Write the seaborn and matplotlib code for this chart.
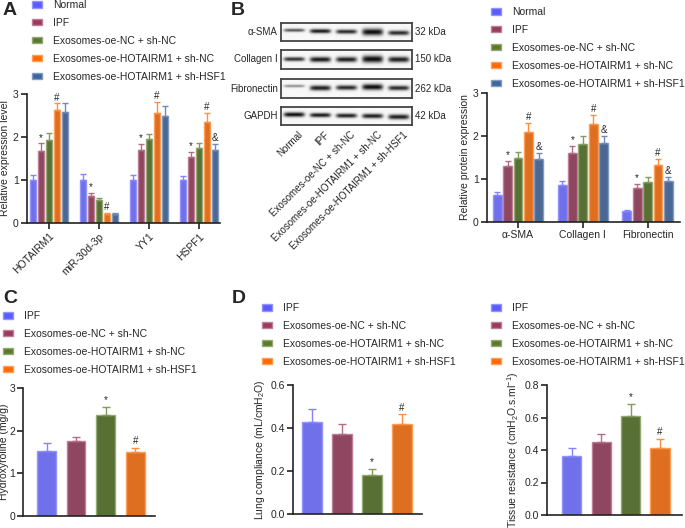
import numpy as np
import pandas as pd
import seaborn as sns
import matplotlib.pyplot as plt
from matplotlib.patches import Patch
from matplotlib import transforms
from matplotlib.colors import to_rgb

sns.set_theme(style="ticks")
plt.rcParams["font.family"] = ["Liberation Sans", "DejaVu Sans"]
plt.rcParams["mathtext.fontset"] = "custom"
plt.rcParams["mathtext.rm"] = "Liberation Sans"
plt.rcParams["mathtext.it"] = "Liberation Sans:italic"

W, H = 685, 528
FS = 7.5      # ticks / axis labels
LFS = 7.5     # legends

# ---- data ----
groups5 = ["Normal", "IPF", "Exosomes-oe-NC + sh-NC",
           "Exosomes-oe-HOTAIRM1 + sh-NC", "Exosomes-oe-HOTAIRM1 + sh-HSF1"]
colors5 = ["#5B5BFF", "#9B3A5E", "#5B7A2B", "#FF6A00", "#3F66A0"]

genes = ["HOTAIRM1", "miR-30d-3p", "YY1", "HSPF1"]
a_mean = [[1.00, 1.00, 1.00, 1.00],
          [1.67, 0.63, 1.70, 1.53],
          [1.93, 0.53, 1.96, 1.74],
          [2.62, 0.21, 2.56, 2.35],
          [2.58, 0.21, 2.50, 1.70]]
a_err = [[0.11, 0.13, 0.12, 0.10],
         [0.18, 0.06, 0.14, 0.13],
         [0.17, 0.06, 0.12, 0.13],
         [0.16, 0.02, 0.25, 0.20],
         [0.20, 0.03, 0.22, 0.14]]
a_marks = [["", "", "", ""], ["*", "*", "*", "*"], ["", "", "", ""],
           ["#", "#", "#", "#"], ["", "", "", "&"]]

proteins = ["α-SMA", "Collagen Ⅰ", "Fibronectin"]
b_mean = [[0.62, 0.85, 0.26],
          [1.30, 1.60, 0.80],
          [1.49, 1.82, 0.94],
          [2.10, 2.28, 1.33],
          [1.47, 1.84, 0.95]]
b_err = [[0.08, 0.10, 0.03],
         [0.12, 0.16, 0.08],
         [0.13, 0.18, 0.10],
         [0.20, 0.20, 0.13],
         [0.13, 0.16, 0.10]]
b_marks = [["", "", ""], ["*", "*", "*"], ["", "", ""],
           ["#", "#", "#"], ["&", "&", "&"]]

blot_rows = ["α-SMA", "Collagen Ⅰ", "Fibronectin", "GAPDH"]
blot_kda = ["32 kDa", "150 kDa", "262 kDa", "42 kDa"]
band_dark = [[0.70, 0.95, 0.88, 1.00, 0.88],
             [0.85, 0.95, 0.93, 1.00, 0.93],
             [0.45, 0.93, 0.88, 1.00, 0.88],
             [1.00, 0.95, 0.93, 0.93, 0.93]]
band_thick = [[0.09, 0.12, 0.12, 0.19, 0.13],
              [0.11, 0.14, 0.14, 0.19, 0.15],
              [0.07, 0.13, 0.12, 0.15, 0.12],
              [0.13, 0.12, 0.12, 0.13, 0.14]]
band_pos = [[0.40, 0.45, 0.48, 0.50, 0.55],
            [0.48, 0.50, 0.50, 0.48, 0.50],
            [0.40, 0.50, 0.48, 0.45, 0.50],
            [0.42, 0.45, 0.48, 0.50, 0.55]]

groups4 = ["IPF", "Exosomes-oe-NC + sh-NC",
           "Exosomes-oe-HOTAIRM1 + sh-NC", "Exosomes-oe-HOTAIRM1 + sh-HSF1"]
colors4 = ["#5B5BFF", "#9B3A5E", "#5B7A2B", "#FF6A00"]
marks4 = ["", "", "*", "#"]

c_mean = [1.53, 1.75, 2.36, 1.50]
c_err = [0.17, 0.10, 0.20, 0.10]
d1_mean = [0.43, 0.37, 0.18, 0.42]
d1_err = [0.06, 0.05, 0.03, 0.045]
d2_mean = [0.365, 0.45, 0.61, 0.41]
d2_err = [0.05, 0.05, 0.075, 0.06]


def light(c, f=0.35):
    r = np.array(to_rgb(c))
    return tuple(r + (1 - r) * f)


fig = plt.figure(figsize=(W / 100, H / 100), dpi=100)


def box(l, t, r, b):
    return fig.add_axes([l / W, 1 - b / H, (r - l) / W, (b - t) / H])


def style(ax, ylim, yticks, ylabel, labelpad=2, pad=2):
    sns.despine(ax=ax)
    for s in ["left", "bottom"]:
        ax.spines[s].set_linewidth(1.2)
        ax.spines[s].set_color("#222222")
    ax.set_ylim(*ylim)
    ax.set_yticks(yticks)
    ax.tick_params(axis="both", labelsize=FS, length=4, width=1.2, color="#222222", pad=pad)
    ax.set_ylabel(ylabel, fontsize=FS, labelpad=labelpad)
    ax.set_xlabel("")


def legend(ax, names, colors, x, y):
    handles = [Patch(facecolor=c, edgecolor=light(c)) for c in colors]
    ax.legend(handles, names, loc="upper left", bbox_to_anchor=(x / W, 1 - y / H),
              bbox_transform=fig.transFigure, frameon=False, fontsize=LFS,
              handlelength=0.95, handleheight=0.58, handletextpad=1.05,
              labelspacing=0.76, borderpad=0, borderaxespad=0)


def add_err(ax, bar, e, col, m, off, cap):
    x = bar.get_x() + bar.get_width() / 2
    top = bar.get_height()
    ax.errorbar([x], [top], yerr=[[0], [e]], fmt="none", ecolor=light(col, 0.25),
                elinewidth=1, capsize=cap, capthick=1)
    if m:
        ax.text(x, top + e + off, m, ha="center", va="bottom", fontsize=7)


def grouped(ax, cats, means, errs, marks, off):
    df = pd.DataFrame({"cat": np.tile(cats, len(groups5)),
                       "grp": np.repeat(groups5, len(cats)),
                       "val": np.ravel(means)})
    sns.barplot(data=df, x="cat", y="val", hue="grp", hue_order=groups5,
                palette=colors5, errorbar=None, width=0.8, gap=0.15,
                linewidth=1, legend=False, ax=ax)
    for cont, err, mk, col in zip(ax.containers, errs, marks, colors5):
        for bar, e, m in zip(cont, err, mk):
            bar.set_edgecolor(light(col))
            add_err(ax, bar, e, col, m, off, 2)


def single(ax, means, errs, width, off):
    df = pd.DataFrame({"grp": groups4, "val": means})
    sns.barplot(data=df, x="grp", y="val", hue="grp", hue_order=groups4,
                palette=colors4, errorbar=None, width=width, linewidth=1,
                legend=False, ax=ax)
    bars = [b for cont in ax.containers for b in cont]
    bars.sort(key=lambda b: b.get_x())
    for bar, e, m, col in zip(bars, errs, marks4, colors4):
        bar.set_edgecolor(light(col))
        add_err(ax, bar, e, col, m, off, 3)
    ax.set_xticks([])


# ---- A ----
axA = box(27, 94, 220, 223)
grouped(axA, genes, a_mean, a_err, a_marks, 0.02)
axA.set_xlim(-0.44, 3.42)
style(axA, (0, 3), [0, 1, 2, 3], "Relative expression level")
axA.set_xticks(range(len(genes)))
axA.set_xticklabels(genes, rotation=45, ha="right", rotation_mode="anchor")
legend(axA, groups5, colors5, 32, 0)

# ---- B blot ----
u = np.linspace(0, 5, 300)
v = np.linspace(0, 1, 60)
U, V = np.meshgrid(u, v)
blot_top = [23, 50, 79, 107]
blot_bot = [41, 69, 98, 125]
for r, name in enumerate(blot_rows):
    ax = box(281, blot_top[r], 412, blot_bot[r])
    dark = np.zeros_like(U)
    for i in range(5):
        px = np.exp(-((U - (i + 0.5)) / 0.40) ** 6)
        py = np.exp(-((V - band_pos[r][i]) / band_thick[r][i]) ** 2)
        dark += band_dark[r][i] * px * py
    img = 0.97 - 0.92 * np.clip(dark, 0, 1)
    ax.imshow(img, cmap="gray", vmin=0, vmax=1, extent=(0, 5, 1, 0),
              aspect="auto", interpolation="bilinear")
    ax.set_xticks([])
    ax.set_yticks([])
    for s in ax.spines.values():
        s.set_linewidth(1.3)
        s.set_color("#444444")
    ax.text(-0.025, 0.5, name, transform=ax.transAxes, ha="right", va="center", fontsize=7)
    ax.text(1.025, 0.5, blot_kda[r], transform=ax.transAxes, ha="left", va="center", fontsize=7)
    if r == len(blot_rows) - 1:
        tr = transforms.blended_transform_factory(ax.transData, ax.transAxes)
        for i, g in enumerate(groups5):
            ax.text(i + 0.65, -0.25, g, transform=tr, rotation=45, ha="right",
                    va="top", rotation_mode="anchor", fontsize=7)

# ---- B chart ----
axB = box(487, 93, 680, 222)
grouped(axB, proteins, b_mean, b_err, b_marks, 0.02)
axB.set_xlim(-0.48, 2.5)
style(axB, (0, 3), [0, 1, 2, 3], "Relative protein expression")
axB.set_xticks(range(len(proteins)))
axB.set_xticklabels(proteins)
legend(axB, groups5, colors5, 491, 7)

# ---- C ----
axC = box(23, 388, 155, 516)
single(axC, c_mean, c_err, 0.63, 0.03)
axC.set_xlim(-0.8, 3.67)
style(axC, (0, 3), [0, 1, 2, 3], "Hydroxyroline (mg/g)", labelpad=0.5, pad=1.5)
axC.set_xticks([])
legend(axC, groups4, colors4, 3, 311)

# ---- D left ----
axD1 = box(293, 385, 422, 514)
single(axD1, d1_mean, d1_err, 0.65, 0.006)
axD1.set_xlim(-0.64, 3.67)
style(axD1, (0, 0.6), [0.0, 0.2, 0.4, 0.6], "Lung compliance (mL/cmH$_{2}$O)")
axD1.set_yticklabels(["0.0", "0.2", "0.4", "0.6"])
axD1.set_xticks([])
legend(axD1, groups4, colors4, 262, 303)

# ---- D right ----
axD2 = box(547, 385, 682, 515)
single(axD2, d2_mean, d2_err, 0.65, 0.008)
axD2.set_xlim(-0.85, 3.75)
style(axD2, (0, 0.8), [0.0, 0.2, 0.4, 0.6, 0.8], "Tissue resistance (cmH$_{2}$O.s.ml$^{-1}$)")
axD2.set_yticklabels(["0.0", "0.2", "0.4", "0.6", "0.8"])
axD2.set_xticks([])
legend(axD2, groups4, colors4, 491, 303)

for letter, x, y in [("A", 3, 2), ("B", 231, 2), ("C", 3, 290), ("D", 232, 290)]:
    fig.text(x / W, 1 - y / H, letter, fontsize=14, fontweight="bold", va="top", ha="left")

fig.savefig("out.png", dpi=100)
